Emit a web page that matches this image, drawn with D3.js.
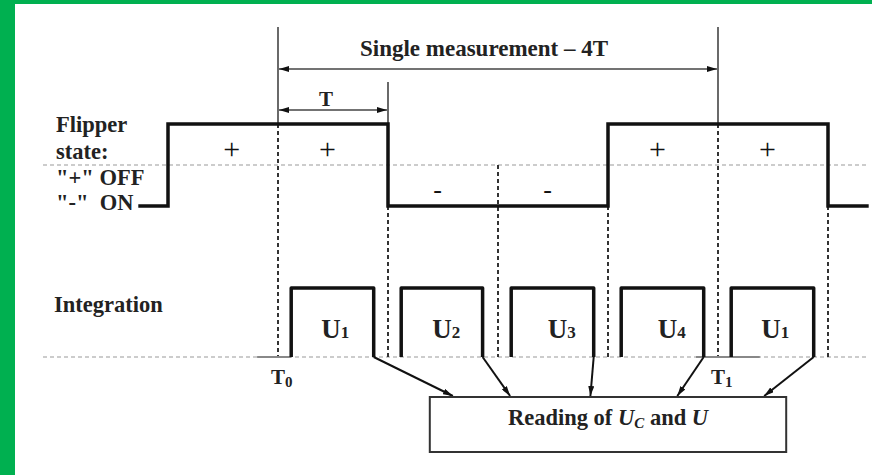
<!DOCTYPE html>
<html>
<head>
<meta charset="utf-8">
<script src="https://cdn.jsdelivr.net/npm/d3@7"></script>
<style>
  body { margin: 0; background: #fff; }
  text { font-family: "Liberation Serif", "Times New Roman", serif; }
</style>
</head>
<body>
<svg width="872" height="475"></svg>
<script>
// time axis in periods T, T0 = 0
const flipperSteps = [[-1.27, 0], [-1, 1], [1, 0], [3, 1], [5, 0], [5.37, 0]]
const flipperSigns = [[-0.42, '+'], [0.45, '+'], [1.45, '-'], [2.45, '-'], [3.45, '+'], [4.45, '+']]
const pulseStart = [0.12, 1.12, 2.12, 3.12, 4.12]
const pulseEnd = [0.87, 1.86, 2.87, 3.87, 4.87]
const pulseLabels = ['1', '2', '3', '4', '1']
const pulseLabelAt = [0.52, 1.53, 2.58, 3.58, 4.52]
const arrowTargets = [1.59, 2.11, 2.84, 3.63, 4.42]
const boundaries = [0, 1, 2, 3, 4, 5]
const dottedFrom = ['high', 'low', 'mid', 'low', 'high', 'low']
const markTimes = [[0, 'T', '0'], [4, 'T', '1']]
const stateLabels = ['Flipper', 'state:', '"+" OFF', '"-"  ON']

const svg = d3.select('svg')
const width = +svg.attr('width')
const height = +svg.attr('height')

svg.append('rect').attr('width', width).attr('height', height).attr('fill', '#fff')
svg.append('rect').attr('width', 15).attr('height', height).attr('fill', '#00b050')
svg.append('rect').attr('width', width).attr('height', 4).attr('fill', '#00b050')

const x = d3.scaleLinear().domain([0, 4]).range([278, 718])
const yF = d3.scaleLinear().domain([0, 1]).range([206, 124])
const yI = d3.scaleLinear().domain([0, 1]).range([357, 288])
const yMid = 165
const boxTop = 397, boxBottom = 452
const fs = 22.5

const defs = svg.append('defs')
defs.append('marker')
  .attr('id', 'arr')
  .attr('viewBox', '0 0 10 6')
  .attr('refX', 10).attr('refY', 3)
  .attr('markerWidth', 10).attr('markerHeight', 6)
  .attr('markerUnits', 'userSpaceOnUse')
  .attr('orient', 'auto-start-reverse')
  .append('path').attr('d', 'M0,0L10,3L0,6Z').attr('fill', '#111')

// dashed reference lines
svg.selectAll('.hline')
  .data([yMid, yI(0)])
  .join('line')
  .attr('x1', 43).attr('x2', 868)
  .attr('y1', d => d).attr('y2', d => d)
  .attr('stroke', '#999').attr('stroke-width', 1.2)
  .attr('stroke-dasharray', '4,3')

// dotted verticals
const topOf = { high: yF(1), low: yF(0), mid: yMid }
svg.selectAll('.vdot')
  .data(boundaries)
  .join('line')
  .attr('x1', d => x(d)).attr('x2', d => x(d))
  .attr('y1', (d, i) => topOf[dottedFrom[i]])
  .attr('y2', yI(0))
  .attr('stroke', '#333').attr('stroke-width', 2)
  .attr('stroke-dasharray', '4,3')

// solid markers for T0 / T1 and the T dimension
svg.selectAll('.vsolid')
  .data([[0, 27], [4, 27], [1, 82]])
  .join('line')
  .attr('x1', d => x(d[0])).attr('x2', d => x(d[0]))
  .attr('y1', d => d[1]).attr('y2', yF(1))
  .attr('stroke', '#444').attr('stroke-width', 1.6)

// dimension arrows
svg.append('line')
  .attr('x1', x(0) + 1).attr('x2', x(4) - 1)
  .attr('y1', 69).attr('y2', 69)
  .attr('stroke', '#444').attr('stroke-width', 1.6)
  .attr('marker-start', 'url(#arr)').attr('marker-end', 'url(#arr)')
svg.append('line')
  .attr('x1', x(0) + 1).attr('x2', x(1) - 1)
  .attr('y1', 110).attr('y2', 110)
  .attr('stroke', '#444').attr('stroke-width', 1.6)
  .attr('marker-start', 'url(#arr)').attr('marker-end', 'url(#arr)')

svg.append('text')
  .attr('x', 484).attr('y', 56)
  .attr('text-anchor', 'middle')
  .attr('font-size', 23).attr('font-weight', 'bold')
  .attr('fill', '#222')
  .text('Single measurement \u2013 4T')

svg.append('text')
  .attr('x', 326).attr('y', 106)
  .attr('text-anchor', 'middle')
  .attr('font-size', 21).attr('font-weight', 'bold')
  .attr('fill', '#222')
  .text('T')

// flipper state
svg.append('path')
  .datum(flipperSteps)
  .attr('d', d3.line().x(d => x(d[0])).y(d => yF(d[1])).curve(d3.curveStepAfter))
  .attr('fill', 'none')
  .attr('stroke', '#111').attr('stroke-width', 3.5)

svg.selectAll('.sign')
  .data(flipperSigns)
  .join('text')
  .attr('x', d => x(d[0]))
  .attr('y', d => d[1] === '+' ? 159 : 198)
  .attr('text-anchor', 'middle')
  .attr('font-size', d => d[1] === '+' ? 30 : 26)
  .attr('fill', '#111')
  .text(d => d[1])

svg.selectAll('.state')
  .data(stateLabels)
  .join('text')
  .attr('x', 56)
  .attr('y', (d, i) => [132, 159, 185, 210][i])
  .attr('font-size', fs).attr('font-weight', 'bold')
  .attr('fill', '#222')
  .style('white-space', 'pre')
  .text(d => d)

// integration
svg.append('text')
  .attr('x', 54).attr('y', 312)
  .attr('font-size', fs).attr('font-weight', 'bold')
  .attr('fill', '#222')
  .text('Integration')

svg.selectAll('.lead')
  .data([[-0.19, 0.12], [3.8, 4.38]])
  .join('line')
  .attr('x1', d => x(d[0])).attr('x2', d => x(d[1]))
  .attr('y1', yI(0)).attr('y2', yI(0))
  .attr('stroke', '#888').attr('stroke-width', 2.2)

const pulseLine = d3.line().x(d => x(d[0])).y(d => yI(d[1]))
svg.selectAll('.pulse')
  .data(pulseStart)
  .join('path')
  .attr('d', (d, i) => pulseLine([[d, 0], [d, 1], [pulseEnd[i], 1], [pulseEnd[i], 0]]))
  .attr('fill', 'none')
  .attr('stroke', '#111').attr('stroke-width', 3.5)
  .attr('stroke-linejoin', 'round')

const uLabel = svg.selectAll('.ulab')
  .data(pulseLabels)
  .join('text')
  .attr('x', (d, i) => x(pulseLabelAt[i]))
  .attr('y', 338)
  .attr('text-anchor', 'middle')
  .attr('font-weight', 'bold')
  .attr('fill', '#222')
uLabel.append('tspan').attr('font-size', 27).text('U')
uLabel.append('tspan').attr('font-size', 17).text(d => d)

const tLabel = svg.selectAll('.tlab')
  .data(markTimes)
  .join('text')
  .attr('x', d => x(d[0]) - 7)
  .attr('y', 384)
  .attr('font-weight', 'bold')
  .attr('fill', '#222')
tLabel.append('tspan').attr('font-size', 21).text(d => d[1])
tLabel.append('tspan').attr('font-size', 15).attr('dy', 3).text(d => d[2])

// arrows to reading box
svg.selectAll('.feed')
  .data(pulseEnd)
  .join('line')
  .attr('x1', d => x(d)).attr('y1', yI(0))
  .attr('x2', (d, i) => x(arrowTargets[i])).attr('y2', boxTop - 1)
  .attr('stroke', '#111').attr('stroke-width', 2)
  .attr('marker-end', 'url(#arr)')

svg.append('rect')
  .attr('x', x(1.38)).attr('y', boxTop)
  .attr('width', x(4.62) - x(1.38)).attr('height', boxBottom - boxTop)
  .attr('fill', '#fff')
  .attr('stroke', '#333').attr('stroke-width', 2)

const reading = svg.append('text')
  .attr('x', (x(1.38) + x(4.62)) / 2).attr('y', 425)
  .attr('text-anchor', 'middle')
  .attr('font-size', fs).attr('font-weight', 'bold')
  .attr('fill', '#222')
reading.append('tspan').text('Reading of ')
reading.append('tspan').attr('font-style', 'italic').text('U')
reading.append('tspan').attr('font-style', 'italic').attr('font-size', 15).attr('dy', 3).text('C')
reading.append('tspan').attr('dy', -3).text(' and ')
reading.append('tspan').attr('font-style', 'italic').text('U')
</script>
</body>
</html>
